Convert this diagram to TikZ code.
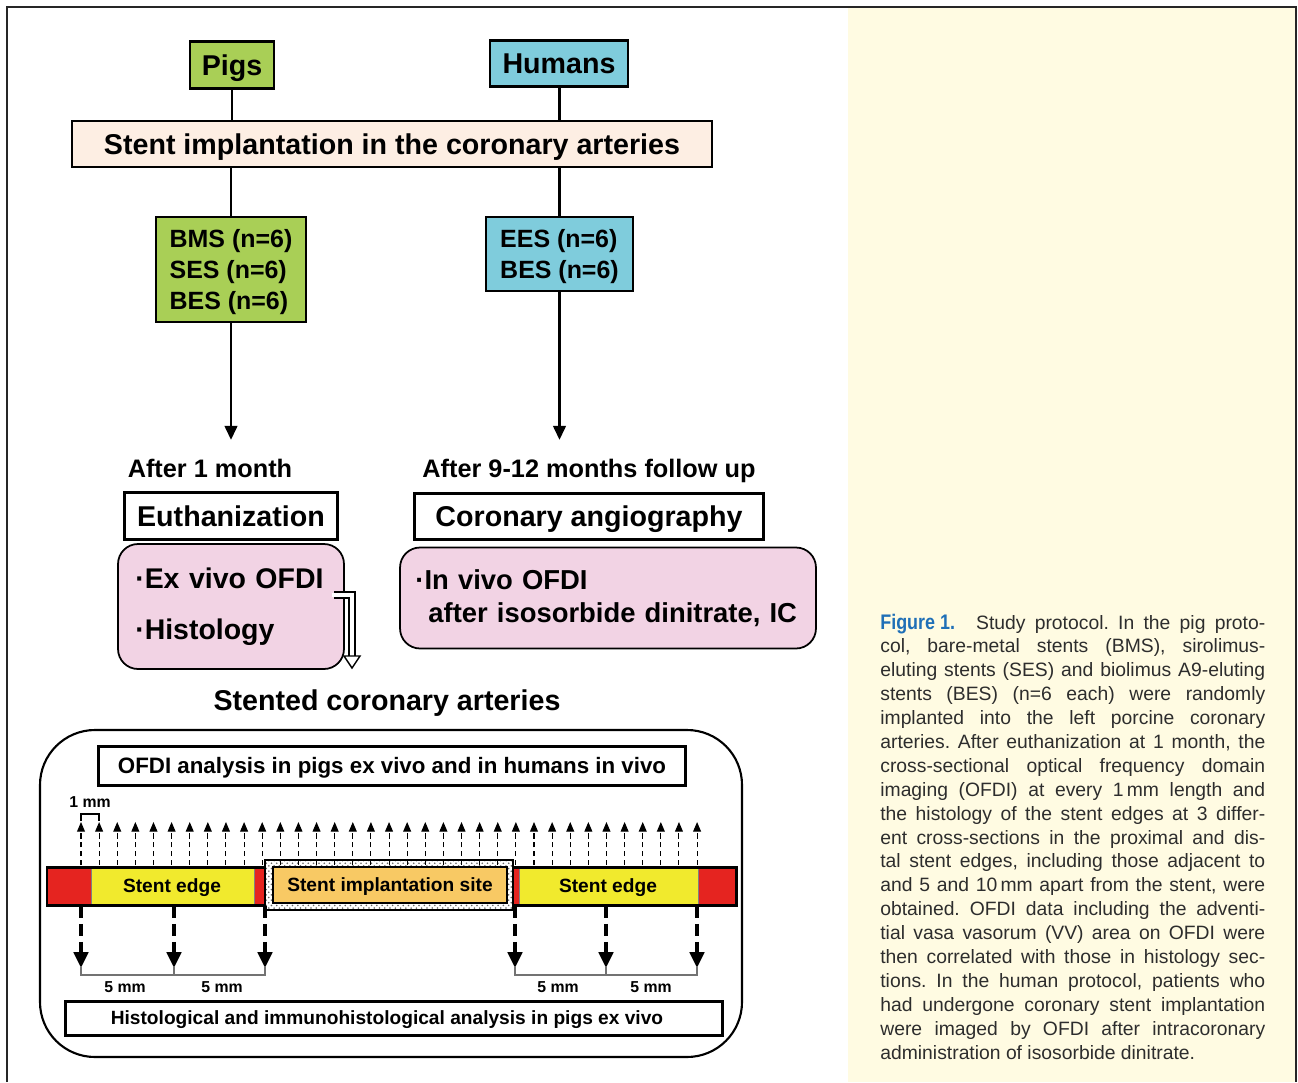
\documentclass[tikz,border=0pt]{standalone}
\usepackage{fontspec}
\setmainfont{Liberation Sans}
\usepackage{xcolor}
\usepackage{graphicx}
\usepackage{tikz}
\usetikzlibrary{arrows,arrows.meta,positioning,calc,shapes,patterns}

\definecolor{pigsgreen}{RGB}{169,207,86}
\definecolor{humanblue}{RGB}{127,204,220}
\definecolor{peach}{RGB}{253,238,227}
\definecolor{pinkbox}{RGB}{242,211,228}
\definecolor{edgered}{RGB}{229,36,32}
\definecolor{edgeyellow}{RGB}{241,234,45}
\definecolor{siteorange}{RGB}{248,201,100}
\definecolor{capcream}{RGB}{255,251,226}
\definecolor{figblue}{RGB}{31,111,183}
\definecolor{captext}{RGB}{45,45,45}

\newcommand{\capline}[1]{\hbox to \hsize{#1}}

\begin{document}
\begin{tikzpicture}[x=0.02cm,y=-0.02cm,
  headbox/.style={draw, line width=1.5pt, minimum height=0.93cm, text depth=0pt, font={\fontsize{16.3}{18}\selectfont\bfseries}},
  groupbox/.style={draw, line width=1.5pt, align=left, text depth=0pt, font={\fontsize{14.2}{17.6}\selectfont\bfseries}},
  stepbox/.style={draw, line width=1.7pt, fill=white, minimum height=0.93cm, text depth=0pt, font={\fontsize{16.3}{18}\selectfont\bfseries}},
  plainlbl/.style={text depth=0pt, font={\fontsize{14.4}{17}\selectfont\bfseries}},
  listbox/.style={draw, line width=1pt, fill=pinkbox, rounded corners=0.4cm, align=left},
  smalllbl/.style={font={\fontsize{9}{10}\selectfont\bfseries}},
  link/.style={line width=1.7pt},
  flow/.style={line width=1.7pt, -{Triangle[length=8pt,width=7pt]}},
  probe/.style={densely dashed, line width=0.6pt, -{Triangle[length=5.5pt,width=4.5pt]}},
  section/.style={line width=2.3pt, dash pattern=on 6.8pt off 3.4pt, -{Triangle[length=9pt,width=8pt]}},
]
\useasboundingbox (0,0) rectangle (1298,1082);

% Frame and caption panel
\fill[capcream] (848,8) rectangle (1296,1082);
\draw[line width=1.4pt, black!85] (7,1082) -- (7,7) -- (1296,7) -- (1296,1082);

% Groups
\node[headbox, fill=pigsgreen, minimum width=1.68cm] (pigs) at (232,65) {Pigs};
\node[headbox, fill=humanblue, minimum width=2.76cm] (humans) at (559,63.5) {Humans};
\node[headbox, fill=peach, minimum width=12.8cm, minimum height=0.92cm] (implant) at (392,144) {Stent implantation in the coronary arteries};
\node[groupbox, fill=pigsgreen, minimum width=3cm, minimum height=2.1cm] (bms) at (231,269.5) {BMS (n=6)\\SES (n=6)\\BES (n=6)};
\node[groupbox, fill=humanblue, minimum width=2.94cm, minimum height=1.48cm] (ees) at (559.5,254) {EES (n=6)\\BES (n=6)};

\draw[link] (pigs) -- (pigs |- implant.north);
\draw[link] (humans) -- (humans |- implant.north);
\draw[link] (bms) -- (bms |- implant.south);
\draw[link] (ees) -- (ees |- implant.south);

% Follow up
\coordinate (pigend) at (232,440);
\coordinate (humend) at (559,440);
\draw[flow] (bms.south) -- (bms.south |- pigend);
\draw[flow] (ees.south) -- (ees.south |- humend);

\node[plainlbl] (after1) at (210,468) {After 1 month};
\node[plainlbl] (after2) at (589,468) {After 9-12 months follow up};
\node[stepbox, minimum width=4.28cm] (euth) at (231,516) {Euthanization};
\node[stepbox, minimum width=7.0cm] (angio) at (589,516.5) {Coronary angiography};

\node[listbox, minimum width=4.52cm, minimum height=2.5cm, text width=3.9cm,
  font={\fontsize{16.2}{28.9}\selectfont\bfseries}] (exvivo) at (231,606.5) {\hspace*{1pt}·Ex vivo OFDI\\\hspace*{1pt}·Histology};
\node[listbox, minimum width=8.32cm, minimum height=2.02cm, text width=7.9cm,
  font={\fontsize{15.6}{18.7}\selectfont\bfseries}] (invivo) at (608,598) {\hspace*{2.8pt}·In vivo OFDI\\\hspace*{10.2pt}after isosorbide dinitrate, IC};

% Hollow arrow
\draw[line width=4pt, line join=miter] (334,595) -- (352,595) -- (352,658);
\draw[line width=2pt, white, line join=miter] (332,595) -- (352,595) -- (352,659);
\draw[line width=0.8pt, fill=white] (344,656) -- (360,656) -- (352,668) -- cycle;

\node[plainlbl, font={\fontsize{16.3}{18}\selectfont\bfseries}] (stented) at (387,700) {Stented coronary arteries};

% Analysis panel
\draw[line width=1.2pt, rounded corners=1.1cm] (40,730) rectangle (742,1057);
\node[stepbox, minimum width=11.76cm, minimum height=0.78cm, font={\fontsize{12.7}{14}\selectfont\bfseries}] (ofdi) at (392,765.5) {OFDI analysis in pigs ex vivo and in humans in vivo};
\node[stepbox, minimum width=13.16cm, minimum height=0.68cm, font={\fontsize{10.9}{13}\selectfont\bfseries}] (histo) at (394,1018) {Histological and immunohistological analysis in pigs ex vivo\hspace*{8pt}};

% Vessel bar
\fill[edgered] (47,867) rectangle (91,905);
\fill[edgeyellow] (91,867) rectangle (254,905);
\fill[edgered] (254,867) rectangle (266,905);
\fill[edgered] (513,867) rectangle (519,905);
\fill[edgeyellow] (519,867) rectangle (698,905);
\fill[edgered] (698,867) rectangle (736,905);
\foreach \x in {91,254,519,698}
  \draw[black!50, line width=0.4pt] (\x,867) -- (\x,905);
\draw[line width=1.7pt] (47,867) rectangle (736,905);
\fill[white] (265,860) rectangle (513,910);
\fill[pattern=crosshatch dots, pattern color=black!60] (265,860) rectangle (513,910);
\draw[line width=1.5pt] (265,860) rectangle (513,910);
\node[draw, line width=1.2pt, fill=siteorange, minimum width=4.68cm, minimum height=0.72cm, text depth=0pt,
  font={\fontsize{10.9}{13}\selectfont\bfseries}] (site) at (390,885) {Stent implantation site};
\node[text depth=0pt, font={\fontsize{10.9}{13}\selectfont\bfseries}] (edgeL) at (172,886) {Stent edge};
\node[text depth=0pt, font={\fontsize{10.9}{13}\selectfont\bfseries}] (edgeR) at (608,886) {Stent edge};

% OFDI frames every 1 mm
\foreach \i in {0,...,34}
  \draw[probe] ({81+18.12*\i},865) -- ({81+18.12*\i},822);
\draw[line width=0.6pt] (81,821) -- (81,814) -- (99,814) -- (99,821);
\node[smalllbl] (onemm) at (90,802) {1 mm};

% Histology sections
\foreach \x in {81,174,265,515,606,697}
  \draw[section] (\x,906) -- (\x,968);
\foreach \a/\b/\m in {81/174/125,174/265/222,515/606/558,606/697/651} {
  \draw[black!55, line width=0.6pt] (\a,966) -- (\a,975) -- (\b,975) -- (\b,966);
  \node[smalllbl] (mm\m) at (\m,987) {5 mm};
}

% Caption
\node[anchor=base west, inner sep=0pt, text=captext, font={\fontsize{11}{13.6}\selectfont\frenchspacing}] (caption) at (880,629) {\vtop{\hsize=7.7cm
\capline{\textcolor{figblue}{\fontsize{12}{13.6}\selectfont\bfseries\scalebox{0.85}[1]{Figure 1.}}\hspace{12pt}Study protocol. In the pig proto-}
\capline{col, bare-metal stents (BMS), sirolimus-}
\capline{eluting stents (SES) and biolimus A9-eluting}
\capline{stents (BES) (n=6 each) were randomly}
\capline{implanted into the left porcine coronary}
\capline{arteries. After euthanization at 1 month, the}
\capline{cross-sectional optical frequency domain}
\capline{imaging (OFDI) at every 1\,mm length and}
\capline{the histology of the stent edges at 3 differ-}
\capline{ent cross-sections in the proximal and dis-}
\capline{tal stent edges, including those adjacent to}
\capline{and 5 and 10\,mm apart from the stent, were}
\capline{obtained. OFDI data including the adventi-}
\capline{tial vasa vasorum (VV) area on OFDI were}
\capline{then correlated with those in histology sec-}
\capline{tions. In the human protocol, patients who}
\capline{had undergone coronary stent implantation}
\capline{were imaged by OFDI after intracoronary}
\hbox{administration of isosorbide dinitrate.}}};
\end{tikzpicture}
\end{document}
